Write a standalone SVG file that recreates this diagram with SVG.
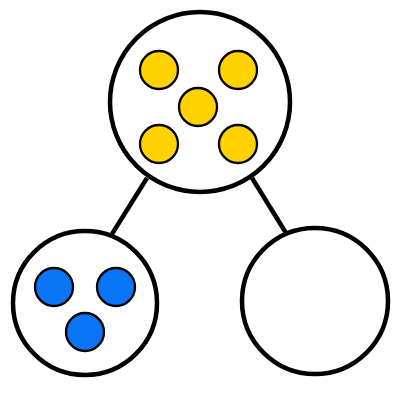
<svg xmlns="http://www.w3.org/2000/svg" width="400" height="400" viewBox="0 0 400 400">
<style>
.big{fill:#fff;stroke:#000;stroke-width:4.5}
.edge{stroke:#000;stroke-width:4.5;fill:none}
.y{fill:#FFD200;stroke:#000;stroke-width:2.3}
.b{fill:#0A75F5;stroke:#000;stroke-width:2.3}
</style>
<rect width="400" height="400" fill="#fff"/>
<g id="connectors">
<line class="edge" x1="147" y1="178" x2="112" y2="234"/>
<line class="edge" x1="252" y1="178" x2="286" y2="233"/>
</g>
<g id="top">
<circle class="big" cx="200" cy="102" r="90"/>
<circle class="y" cx="159" cy="70" r="19"/>
<circle class="y" cx="238" cy="70" r="19"/>
<circle class="y" cx="198" cy="107" r="19"/>
<circle class="y" cx="159" cy="144" r="19"/>
<circle class="y" cx="238" cy="144" r="19"/>
</g>
<g id="left">
<circle class="big" cx="85" cy="303" r="72"/>
<circle class="b" cx="54" cy="287" r="19"/>
<circle class="b" cx="116" cy="287" r="19"/>
<circle class="b" cx="85" cy="332" r="19"/>
</g>
<g id="right">
<circle class="big" cx="315" cy="301" r="73"/>
</g>
</svg>
